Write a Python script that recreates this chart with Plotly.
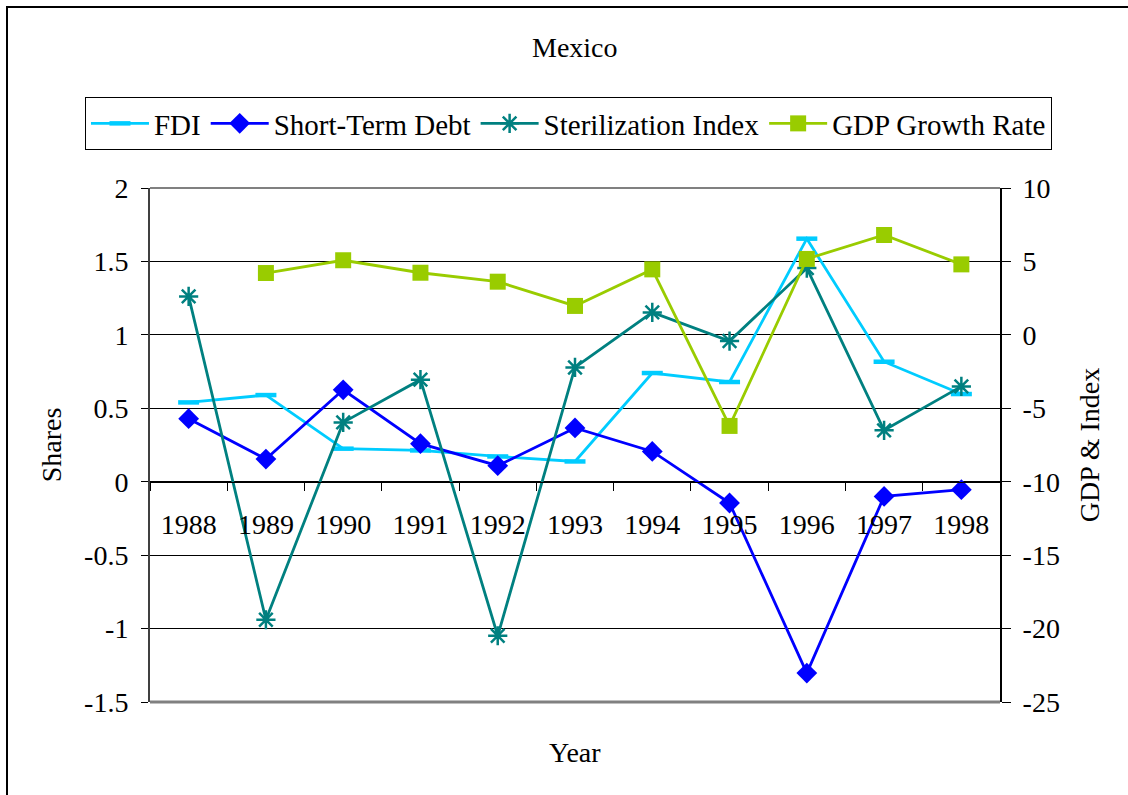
import plotly.graph_objects as go

years = ["1988", "1989", "1990", "1991", "1992", "1993", "1994", "1995", "1996", "1997", "1998"]
fdi = [0.54, 0.59, 0.225, 0.213, 0.172, 0.138, 0.74, 0.679, 1.655, 0.817, 0.597]
short_term_debt = [0.429, 0.154, 0.626, 0.259, 0.109, 0.366, 0.206, -0.145, -1.303, -0.10, -0.054]
sterilization_index = [1.262, -0.94, 0.404, 0.695, -1.049, 0.778, 1.153, 0.958, 1.455, 0.35, 0.649]
gdp_growth = [None, 4.21, 5.08, 4.23, 3.62, 1.97, 4.46, -6.2, 5.17, 6.8, 4.8]

left_ticks = [-1.5, -1, -0.5, 0, 0.5, 1, 1.5, 2]
left_labels = ["-1.5", "-1", "-0.5", "0", "0.5", "1", "1.5", "2"]
right_ticks = [-25, -20, -15, -10, -5, 0, 5, 10]
right_labels = ["-25", "-20", "-15", "-10", "-5", "0", "5", "10"]

FONT = "Liberation Serif"
FS = 28
C_FDI = "#00CCFF"
C_STD = "#0000FF"
C_STER = "#008080"
C_GDP = "#99CC00"

fig = go.Figure()
fig.add_trace(go.Scatter(
    x=years, y=fdi, name="FDI", mode="lines+markers",
    line=dict(color=C_FDI, width=2.8),
    marker=dict(symbol="line-ew", size=15, line=dict(color=C_FDI, width=4.5)),
))
fig.add_trace(go.Scatter(
    x=years, y=short_term_debt, name="Short-Term Debt", mode="lines+markers",
    line=dict(color=C_STD, width=2.8),
    marker=dict(symbol="diamond", size=16, color=C_STD),
))
fig.add_trace(go.Scatter(
    x=years, y=sterilization_index, name="Sterilization Index", mode="lines+markers",
    line=dict(color=C_STER, width=2.8),
    marker=dict(symbol="asterisk-open", size=16, line=dict(color=C_STER, width=2.5)),
))
fig.add_trace(go.Scatter(
    x=years, y=gdp_growth, name="GDP Growth Rate", mode="lines+markers", yaxis="y2",
    line=dict(color=C_GDP, width=2.8),
    marker=dict(symbol="square", size=16, color=C_GDP),
))

fig.update_layout(
    width=1128, height=795,
    margin=dict(l=150, r=128, t=188, b=93),
    paper_bgcolor="white", plot_bgcolor="white",
    font=dict(family=FONT, size=FS, color="black"),
    showlegend=True,
    legend=dict(
        orientation="h", x=-0.0765, y=1.177, xanchor="left", yanchor="top",
        bordercolor="black", borderwidth=1, bgcolor="white",
        font=dict(family=FONT, size=29), itemwidth=58, tracegroupgap=0,
    ),
    xaxis=dict(
        type="category", range=[-0.5, 10.5],
        anchor="free", position=(0 - (-1.5)) / 3.5,
        showline=True, linecolor="black", linewidth=1,
        ticks="outside", tickson="boundaries", ticklen=8, tickcolor="black",
        ticklabelstandoff=18, showgrid=False, zeroline=False,
        tickfont=dict(family=FONT, size=FS),
    ),
    yaxis=dict(
        range=[-1.5, 2], tickvals=left_ticks, ticktext=left_labels,
        showline=True, linecolor="#404040", linewidth=2,
        ticks="outside", ticklen=7, tickcolor="black", ticklabelstandoff=7,
        showgrid=True, gridcolor="black", gridwidth=1, zeroline=False,
        title=dict(text="Shares", font=dict(family=FONT, size=FS), standoff=14),
        tickfont=dict(family=FONT, size=FS),
    ),
    yaxis2=dict(
        range=[-25, 10], tickvals=right_ticks, ticktext=right_labels,
        overlaying="y", side="right",
        showline=True, linecolor="black", linewidth=2,
        ticks="outside", ticklen=9, tickcolor="black", ticklabelstandoff=6,
        showgrid=False, zeroline=False,
        title=dict(text="GDP & Index", font=dict(family=FONT, size=FS), standoff=20),
        tickfont=dict(family=FONT, size=FS),
    ),
    annotations=[
        dict(text="Mexico", x=0.5, y=(702 - 47) / 514, xref="paper", yref="paper",
             showarrow=False, font=dict(family=FONT, size=FS), xanchor="center", yanchor="middle"),
        dict(text="Year", x=0.5, y=(702 - 752) / 514, xref="paper", yref="paper",
             showarrow=False, font=dict(family=FONT, size=FS), xanchor="center", yanchor="middle"),
    ],
    shapes=[
        dict(type="line", xref="paper", yref="paper", x0=0, x1=1, y0=0, y1=0,
             line=dict(color="#808080", width=3), layer="above"),
        dict(type="line", xref="paper", yref="paper", x0=0, x1=1, y0=1, y1=1,
             line=dict(color="#808080", width=2), layer="below"),
        dict(type="rect", xref="paper", yref="paper",
             x0=(7 - 150) / 850, x1=1.3, y0=-0.4, y1=(702 - 7) / 514,
             line=dict(color="black", width=2), fillcolor="rgba(0,0,0,0)", layer="above"),
    ],
)

fig.write_html("out.html", config={"displayModeBar": False},
               post_script="document.body.style.margin='0';")
